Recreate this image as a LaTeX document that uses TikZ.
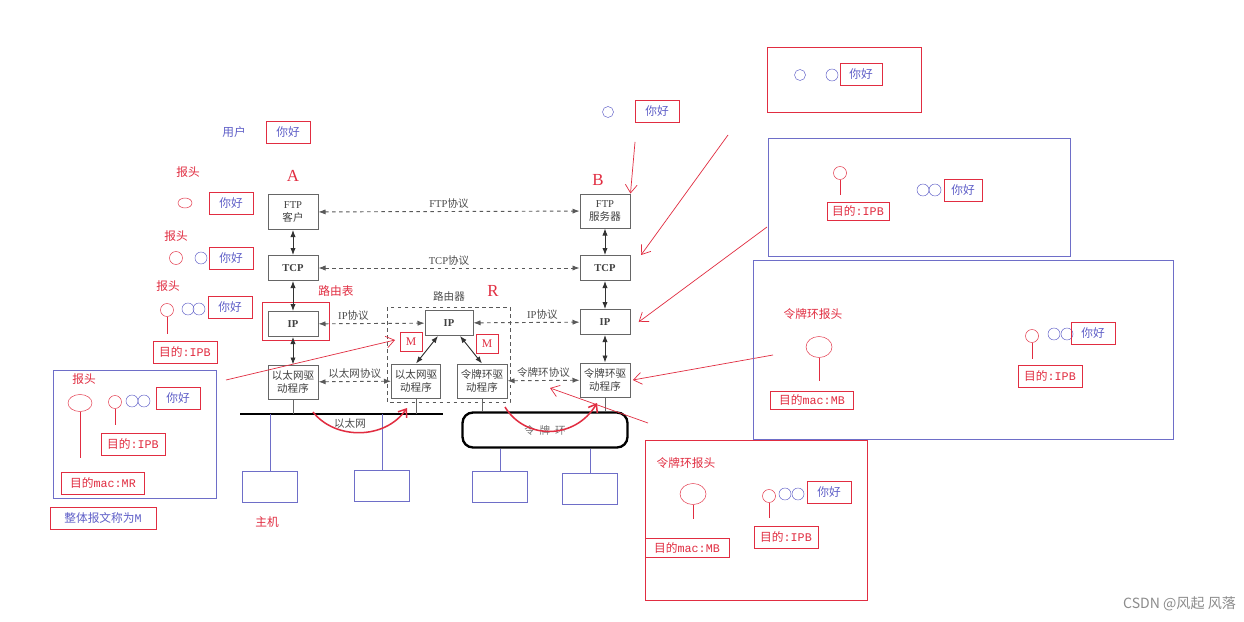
\documentclass[tikz,border=0pt]{standalone}
\usepackage{fontspec}
\setmainfont{Noto Sans CJK SC}
\setmonofont{Liberation Mono}
\newfontfamily\romanfont{Liberation Serif}
\usetikzlibrary{positioning, arrows.meta, shapes.geometric, calc}

\definecolor{pen}{RGB}{225,45,65}
\definecolor{ink}{RGB}{95,95,200}
\definecolor{frame}{RGB}{110,110,200}

\begin{document}
\begin{tikzpicture}[
    x=0.03cm, y=-0.03cm,
    layer/.style={draw=black!60, thick, fill=white, minimum width=1.5cm, minimum height=0.75cm, inner sep=1pt, align=center, font=\small, text=black!75},
    driver/.style={layer, minimum height=1.02cm},
    host/.style={draw=frame, minimum width=1.65cm, minimum height=0.93cm},
    link/.style={{Latex[length=6pt, width=4.5pt]}-{Latex[length=6pt, width=4.5pt]}, thick, black!80},
    peer/.style={{Latex[length=6pt, width=4.5pt]}-{Latex[length=6pt, width=4.5pt]}, thick, dashed, black!65},
    proto/.style={font=\small, text=black!70, inner sep=2pt},
    wire/.style={black!60, thick},
    tag/.style={text=pen, font=\Large\romanfont},
    note/.style={text=pen},
    hello/.style={draw=pen, text=ink, minimum width=1.32cm, minimum height=0.66cm, inner sep=1pt},
    dst/.style={draw=pen, text=pen, minimum width=1.92cm, minimum height=0.66cm, inner sep=2pt},
    hdr/.style={draw=pen, circle, minimum size=0.39cm, inner sep=0pt},
    bighdr/.style={draw=pen, ellipse, minimum width=0.75cm, minimum height=0.6cm, inner sep=0pt},
    body/.style={draw=ink, circle, minimum size=0.36cm, inner sep=0pt},
    mbox/.style={draw=pen, text=pen, font=\romanfont, minimum width=0.66cm, minimum height=0.57cm, inner sep=0pt},
    stem/.style={pen, semithick},
    redarrow/.style={pen, semithick, -{Straight Barb[length=7pt, width=10pt]}},
    scrawl/.style={pen, line width=1.3pt, -{Straight Barb[length=6pt, width=9pt]}}
]
\fill[white] (0,0) rectangle (1244,622);
\useasboundingbox (0,0) rectangle (1244,622);

% Host A
\node (ftpA) [layer, minimum height=1.05cm] at (293,212) {{\romanfont FTP}\\客户};
\node (tcpA) [layer] at (293,268) {\romanfont\bfseries TCP};
\node (ipA) [layer] at (293,324) {\romanfont\bfseries IP};
\node (ethA) [driver] at (293,382) {以太网驱\\动程序};

% Router
\node (ipR) [layer, minimum width=1.44cm] at (449,323) {\romanfont\bfseries IP};
\node (ethR) [driver, minimum width=1.47cm] at (416,381) {以太网驱\\动程序};
\node (tokR) [driver] at (482,381) {令牌环驱\\动程序};

% Host B
\node (ftpB) [layer, minimum height=1.02cm] at (605,211) {{\romanfont FTP}\\服务器};
\node (tcpB) [layer] at (605,268) {\romanfont\bfseries TCP};
\node (ipB) [layer] at (605,322) {\romanfont\bfseries IP};
\node (tokB) [driver] at (605,380) {令牌环驱\\动程序};

% Labels
\node (labA) [tag] at (293,176) {A};
\node (labB) [tag] at (598,180) {B};
\node (labR) [tag] at (493,291) {R};
\node (rtr) [proto] at (449,296) {路由器};
\node (rtab) [note] at (336,291) {路由表};
\draw [black!65, thick, dashed] (387,307) rectangle (510,402);
\draw [pen, semithick] (262,302) rectangle (329,340);

% Peer protocols
\draw [peer] (ftpA) -- node[proto, above] {{\romanfont FTP}协议} (ftpB);
\draw [peer] (tcpA) -- node[proto, above] {{\romanfont TCP}协议} (tcpB);
\draw [peer] (ipA) -- node[proto, above, pos=0.33] {{\romanfont IP}协议} (ipR);
\draw [peer] (ipR) -- node[proto, above, pos=0.65] {{\romanfont IP}协议} (ipB);
\draw [peer] (ethA) -- node[proto, above] {以太网协议} (ethR);
\draw [peer] (tokR) -- node[proto, above] {令牌环协议} (tokB);

% Layer links
\draw [link] (ftpA) -- (tcpA);
\draw [link] (tcpA) -- (ipA);
\draw [link] (ipA) -- (ethA);
\draw [link] (ftpB) -- (tcpB);
\draw [link] (tcpB) -- (ipB);
\draw [link] (ipB) -- (tokB);
\draw [link] ($(ipR.south)+(-11,0)$) -- (ethR.north);
\draw [link] ($(ipR.south)+(11,0)$) -- (tokR.north);

% Ethernet and token ring
\coordinate (busL) at (240,414);
\coordinate (busR) at (443,414);
\draw [line width=2.2pt] (busL) -- (busR);
\draw [wire] (ethA.south) -- (ethA.south |- busL);
\draw [wire] (ethR.south) -- (ethR.south |- busL);
\node (netlab) [proto] at (350,424) {以太网};
\node (ring) [draw, line width=2pt, rounded corners=9pt, minimum width=4.95cm, minimum height=1.05cm, text=black!55, font=\small] at (545,430) {令\ \ 牌\ \ 环};
\draw [wire] (tokR.south) -- (tokR.south |- ring.north);
\draw [wire] (tokB.south) -- (tokB.south |- ring.north);

% Hosts
\node (h1) [host] at (270,487) {};
\node (h2) [host] at (382,486) {};
\node (h3) [host] at (500,487) {};
\node (h4) [host] at (590,489) {};
\draw [frame] (h1.north) -- (h1.north |- busL);
\draw [frame] (h2.north) -- (h2.north |- busL);
\draw [frame] (h3.north) -- (h3.north |- ring.south);
\draw [frame] (h4.north) -- (h4.north |- ring.south);
\node (hostlab) [note] at (267,522) {主机};

% Frames M
\node (m1) [mbox] at (411,342) {M};
\node (m2) [mbox] at (487,344) {M};

% Red strokes
\draw [scrawl] (313,412) .. controls (335,440) and (385,440) .. (407,408);
\draw [scrawl] (505,407) .. controls (525,440) and (575,440) .. (597,403);
\draw [redarrow] (226,380) -- (395,340);
\draw [redarrow] (635,142) -- (ftpB.north east);
\draw [redarrow] (728,135) -- ([xshift=9pt]tcpB.north east);
\draw [redarrow] (767,227) -- ([xshift=7pt]ipB.east);
\draw [redarrow] (773,355) -- ([xshift=2pt]tokB.east);
\draw [redarrow] (648,423) -- (550,388);

% Packets going down at A
\node (user) [text=ink] at (234,132) {用户};
\node (msg0) [hello] at (288,132) {你好};
\node (lab1) [note] at (188,172) {报头};
\node (hdr1) [hdr, ellipse, minimum width=0.42cm, minimum height=0.3cm] at (185,203) {};
\node (msg1) [hello] at (231,203) {你好};
\node (lab2) [note] at (176,236) {报头};
\node (hdr2) [hdr] at (176,258) {};
\node (body2) [body] at (201,258) {};
\node (msg2) [hello] at (231,258) {你好};
\node (lab3) [note] at (168,286) {报头};
\node (hdr3) [hdr] at (167,310) {};
\node (body3a) [body] at (188,309) {};
\node (body3b) [body] at (199,309) {};
\node (msg3) [hello] at (230,307) {你好};
\node (dst3) [dst] at (185,352) {目的\texttt{:IPB}};
\draw [stem] (hdr3.south) -- ++(0,17);

% Whole frame
\draw [frame, semithick] (53,370) rectangle (216,498);
\node (lab4) [note] at (84,379) {报头};
\node (mac4) [bighdr, minimum width=0.72cm, minimum height=0.51cm] at (80,403) {};
\draw [stem] (mac4.south) -- ++(0,46);
\node (hdr4) [hdr] at (115,402) {};
\draw [stem] (hdr4.south) -- ++(0,16);
\node (body4a) [body] at (132,401) {};
\node (body4b) [body] at (144,401) {};
\node (msg4) [hello] at (178,398) {你好};
\node (dst4) [dst] at (133,444) {目的\texttt{:IPB}};
\node (macdst4) [dst, minimum width=2.49cm] at (103,483) {目的\texttt{mac:MR}};
\node (whole) [dst, text=ink, minimum width=3.18cm] at (103,518) {整体报文称为\texttt{M}};

% Packets going up at B
\node (body5) [body, minimum size=0.33cm] at (608,112) {};
\node (msg5) [hello] at (657,111) {你好};

\draw [pen, semithick] (767,47) rectangle (921,112);
\node (body6a) [body, minimum size=0.33cm] at (800,75) {};
\node (body6b) [body] at (832,75) {};
\node (msg6) [hello, minimum width=1.26cm] at (861,74) {你好};

\draw [frame, semithick] (768,138) rectangle (1070,256);
\node (hdr7) [hdr] at (840,173) {};
\draw [stem] (hdr7.south) -- ++(0,15);
\node (dst7) [dst, minimum width=1.86cm, minimum height=0.54cm] at (858,211) {目的\texttt{:IPB}};
\node (body7a) [body] at (923,190) {};
\node (body7b) [body] at (935,190) {};
\node (msg7) [hello, minimum width=1.14cm] at (963,190) {你好};

\draw [frame, semithick] (753,260) rectangle (1173,439);
\node (lab8) [note] at (813,314) {令牌环报头};
\node (mac8) [bighdr, minimum width=0.78cm, minimum height=0.63cm] at (819,347) {};
\draw [stem] (mac8.south) -- ++(0,23);
\node (macdst8) [dst, minimum width=2.49cm, minimum height=0.54cm] at (812,400) {目的\texttt{mac:MB}};
\node (hdr8) [hdr] at (1032,336) {};
\draw [stem] (hdr8.south) -- ++(0,16);
\node (body8a) [body] at (1054,334) {};
\node (body8b) [body] at (1067,334) {};
\node (msg8) [hello] at (1093,333) {你好};
\node (dst8) [dst] at (1050,376) {目的\texttt{:IPB}};

\draw [pen, semithick] (645,440) rectangle (867,600);
\node (lab9) [note] at (686,463) {令牌环报头};
\node (mac9) [bighdr, minimum width=0.78cm, minimum height=0.63cm] at (693,494) {};
\draw [stem] (mac9.south) -- ++(0,14);
\node (macdst9) [dst, minimum width=2.52cm, minimum height=0.57cm] at (687,548) {目的\texttt{mac:MB}};
\node (hdr9) [hdr] at (769,496) {};
\draw [stem] (hdr9.south) -- ++(0,15);
\node (body9a) [body] at (785,494) {};
\node (body9b) [body] at (798,494) {};
\node (msg9) [hello] at (829,492) {你好};
\node (dst9) [dst] at (786,537) {目的\texttt{:IPB}};

\node (mark) [anchor=east, text=black!45, font=\large] at (1240,604) {CSDN @风起 风落};
\end{tikzpicture}
\end{document}
